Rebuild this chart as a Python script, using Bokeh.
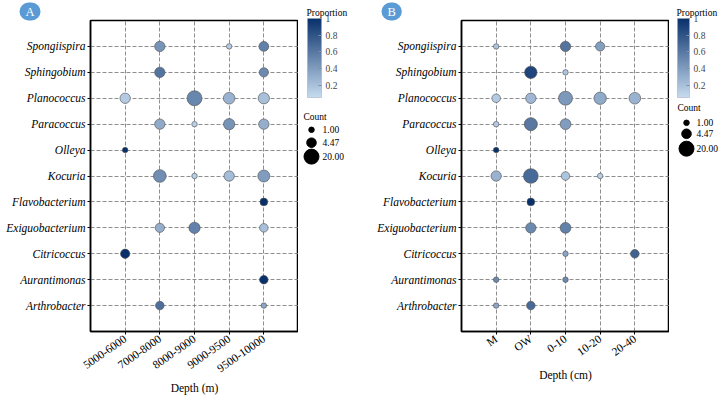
import math
from bokeh.plotting import figure
from bokeh.models import (ColumnDataSource, FactorRange, Range1d, LinearColorMapper, ColorBar,
                          FixedTicker, CustomJSTickFormatter)
from bokeh.layouts import row
from bokeh.embed import file_html
from bokeh.resources import INLINE
from bokeh.core.properties import value

# ---------------- data ----------------
genera = ["Spongiispira", "Sphingobium", "Planococcus", "Paracoccus", "Olleya", "Kocuria",
          "Flavobacterium", "Exiguobacterium", "Citricoccus", "Aurantimonas", "Arthrobacter"]
depth_a = ["5000-6000", "7000-8000", "8000-9000", "9000-9500", "9500-10000"]
depth_b = ["M", "OW", "0-10", "10-20", "20-40"]

a_genus = ["Spongiispira", "Spongiispira", "Spongiispira",
           "Sphingobium", "Sphingobium",
           "Planococcus", "Planococcus", "Planococcus", "Planococcus",
           "Paracoccus", "Paracoccus", "Paracoccus", "Paracoccus",
           "Olleya",
           "Kocuria", "Kocuria", "Kocuria", "Kocuria",
           "Flavobacterium",
           "Exiguobacterium", "Exiguobacterium", "Exiguobacterium",
           "Citricoccus",
           "Aurantimonas",
           "Arthrobacter", "Arthrobacter"]
a_depth = ["7000-8000", "9000-9500", "9500-10000",
           "7000-8000", "9500-10000",
           "5000-6000", "8000-9000", "9000-9500", "9500-10000",
           "7000-8000", "8000-9000", "9000-9500", "9500-10000",
           "5000-6000",
           "7000-8000", "8000-9000", "9000-9500", "9500-10000",
           "9500-10000",
           "7000-8000", "8000-9000", "9500-10000",
           "5000-6000",
           "9500-10000",
           "7000-8000", "9500-10000"]
a_count = [6, 1, 5,
           6, 4,
           6, 20, 9, 8,
           6, 1, 8, 6,
           1,
           12, 1, 6, 10,
           2,
           4, 8, 3,
           4,
           3,
           3, 1]
a_prop = [0.45, 0.15, 0.55,
          0.62, 0.50,
          0.15, 0.52, 0.28, 0.20,
          0.32, 0.12, 0.45, 0.30,
          1.0,
          0.48, 0.12, 0.22, 0.40,
          1.0,
          0.30, 0.55, 0.20,
          1.0,
          1.0,
          0.65, 0.35]

b_genus = ["Spongiispira", "Spongiispira", "Spongiispira",
           "Sphingobium", "Sphingobium",
           "Planococcus", "Planococcus", "Planococcus", "Planococcus", "Planococcus",
           "Paracoccus", "Paracoccus", "Paracoccus",
           "Olleya",
           "Kocuria", "Kocuria", "Kocuria", "Kocuria",
           "Flavobacterium",
           "Exiguobacterium", "Exiguobacterium",
           "Citricoccus", "Citricoccus",
           "Aurantimonas", "Aurantimonas",
           "Arthrobacter", "Arthrobacter"]
b_depth = ["M", "0-10", "10-20",
           "OW", "0-10",
           "M", "OW", "0-10", "10-20", "20-40",
           "M", "OW", "0-10",
           "M",
           "M", "OW", "0-10", "10-20",
           "OW",
           "OW", "0-10",
           "0-10", "20-40",
           "M", "0-10",
           "M", "OW"]
b_count = [1, 6, 4,
           11, 1,
           3, 6, 16, 11, 9,
           1, 13, 7,
           1,
           6, 19, 3, 1,
           2,
           6, 7,
           1, 3,
           1, 1,
           1, 3]
b_prop = [0.18, 0.62, 0.38,
          0.88, 0.18,
          0.15, 0.25, 0.42, 0.32, 0.28,
          0.15, 0.60, 0.40,
          1.0,
          0.28, 0.68, 0.18, 0.12,
          1.0,
          0.50, 0.55,
          0.35, 0.72,
          0.50, 0.50,
          0.35, 0.68]

count_breaks = [1.00, 4.47, 20.00]
prop_ticks = [0.2, 0.4, 0.6, 0.8, 1.0]

# ---------------- styling helpers ----------------
SERIF = "Liberation Serif"
LOW_C = (198, 219, 239)
HIGH_C = (8, 48, 107)
palette = []
for i in range(256):
    t = i / 255
    r, g, b = (round(LOW_C[k] + (HIGH_C[k] - LOW_C[k]) * t) for k in range(3))
    palette.append("#%02x%02x%02x" % (r, g, b))

C_MIN, C_MAX = 1.0, 20.0
D_MIN, D_MAX = 5.5, 15.0

FRAME_TOP, FRAME_BOTTOM, FIG_H = 20, 333, 396


def dia(c):
    return D_MIN + (D_MAX - D_MIN) * math.sqrt((c - C_MIN) / (C_MAX - C_MIN))


def make_panel(genus, depth, count, prop, depths, left_border, letter, badge_cx):
    mapper = LinearColorMapper(palette=palette, low=0.05, high=1.0)
    src = ColumnDataSource(dict(genus=genus, depth=depth, count=count, prop=prop,
                                size=[dia(c) for c in count]))
    p = figure(x_range=FactorRange(factors=depths, range_padding=0.5, range_padding_units="absolute"),
               y_range=FactorRange(factors=list(reversed(genera)), range_padding=0.5,
                                   range_padding_units="absolute"),
               width=left_border + 208, height=FIG_H,
               min_border_left=left_border, min_border_right=0, min_border_top=FRAME_TOP,
               min_border_bottom=FIG_H - FRAME_BOTTOM,
               output_backend="svg", toolbar_location=None)
    p.scatter(x="depth", y="genus", size="size", source=src,
              fill_color={"field": "prop", "transform": mapper},
              line_color="#4d4d4d", line_width=0.6)
    p.outline_line_color = "black"
    p.outline_line_width = 1.5
    for g in (p.xgrid, p.ygrid):
        g.grid_line_color = "#7a7a7a"
        g.grid_line_dash = "4 2"
        g.grid_line_width = 1
        g.grid_line_alpha = 0.85
    for ax in (p.xaxis, p.yaxis):
        ax.axis_line_color = "black"
        ax.axis_line_width = 1.5
        ax.major_tick_line_color = "black"
        ax.major_tick_out = 3
        ax.major_tick_in = 0
        ax.major_label_text_font = SERIF
        ax.major_label_text_color = "black"
        ax.axis_label_text_font = SERIF
        ax.axis_label_text_font_style = "normal"
        ax.axis_label_text_color = "black"
    p.yaxis.major_label_text_font_style = "italic"
    p.yaxis.major_label_text_font_size = "11.5px"
    p.yaxis.major_label_standoff = 2
    p.xaxis.major_label_text_font_size = "11.5px"
    p.xaxis.major_label_orientation = math.radians(35)
    p.xaxis.major_label_standoff = 3
    p.xaxis.axis_label_text_font_size = "11.5px"
    p.xaxis.axis_label_standoff = 3
    # panel letter badge (the figure's own title)
    t = p.title
    t.text = letter
    t.align = "left"
    t.offset = badge_cx - left_border - 5
    t.text_font = SERIF
    t.text_font_size = "12.5px"
    t.text_font_style = "normal"
    t.text_color = "white"
    t.background_fill_color = "#5b9bd5"
    t.border_radius = 10
    t.padding = (6, 2)
    t.standoff = 0
    return p, mapper


def make_legend(mapper, width, bar_x, bar_w, count_title_x, count_title_y, count_x, count_ys, lab_x):
    lg = figure(width=width, height=FIG_H, x_range=Range1d(0, width),
                y_range=Range1d(FRAME_BOTTOM, FRAME_TOP),
                min_border_left=0, min_border_right=0, min_border_top=FRAME_TOP,
                min_border_bottom=FIG_H - FRAME_BOTTOM,
                output_backend="svg", toolbar_location=None,
                x_axis_type=None, y_axis_type=None)
    lg.outline_line_color = None
    lg.xgrid.visible = False
    lg.ygrid.visible = False
    cb = ColorBar(color_mapper=mapper, ticker=FixedTicker(ticks=prop_ticks),
                  formatter=CustomJSTickFormatter(code="return String(tick)"),
                  width=bar_w, height=79, location=(bar_x, FRAME_BOTTOM - 99), padding=0,
                  background_fill_alpha=0, border_line_color=None,
                  bar_line_color="#9aa5b5", bar_line_width=0.5,
                  major_tick_line_color="#7f8fa8", major_tick_in=3, major_tick_out=0,
                  major_label_text_font=SERIF, major_label_text_font_size="9.5px",
                  label_standoff=4)
    lg.add_layout(cb)
    t = lg.title
    t.text = "Proportion"
    t.align = "left"
    t.offset = bar_x - 1
    t.text_font = SERIF
    t.text_font_size = "9.5px"
    t.text_font_style = "normal"
    t.text_color = "black"
    t.standoff = 5
    lg.text(x=[count_title_x], y=[count_title_y], text=["Count"],
            text_font=value(SERIF), text_font_size="9.5px", text_align="left",
            text_baseline="middle", text_color="black")
    lsrc = ColumnDataSource(dict(x=[count_x] * len(count_breaks), y=count_ys,
                                 size=[dia(c) for c in count_breaks],
                                 lx=[lab_x] * len(count_breaks),
                                 lab=["%.2f" % c for c in count_breaks]))
    lg.scatter(x="x", y="y", size="size", source=lsrc, fill_color="black", line_color="black")
    lg.text(x="lx", y="y", text="lab", source=lsrc, text_font=value(SERIF), text_font_size="9.5px",
            text_align="left", text_baseline="middle", text_color="black")
    return lg


pa, ma = make_panel(a_genus, a_depth, a_count, a_prop, depth_a, 90, "A", 24)
pa.xaxis.axis_label = "Depth (m)"
pb, mb = make_panel(b_genus, b_depth, b_count, b_prop, depth_b, 101, "B", 386 - 360)
pb.xaxis.axis_label = "Depth (cm)"

la = make_legend(ma, 62, 9, 14, 5, 117, 13, [130, 143, 157], 24)
lb = make_legend(mb, 54, 8, 12, 8, 108, 17, [123, 134, 149], 27)

layout = row(pa, la, pb, lb, spacing=0)
open("out.html", "w").write(file_html(layout, INLINE))
